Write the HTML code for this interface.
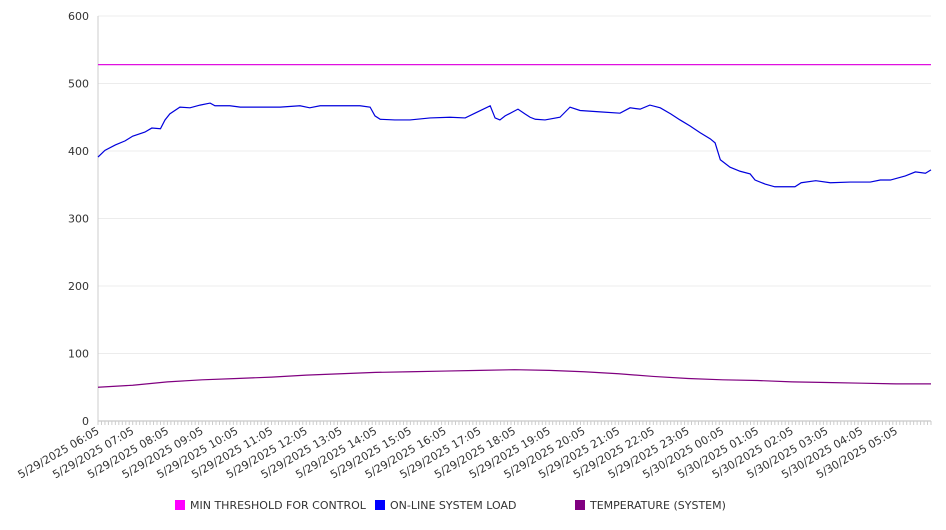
<!DOCTYPE html>
<html><head><meta charset="utf-8"><style>
body{margin:0;background:#fff;font-family:"DejaVu Sans","Liberation Sans",sans-serif}
svg text{font-family:"DejaVu Sans","Liberation Sans",sans-serif;fill:#333}
</style></head><body>
<svg id="c" width="946" height="526"></svg>
<script>
const yTicks=[0,100,200,300,400,500,600];
const xLabels=["5/29/2025 06:05","5/29/2025 07:05","5/29/2025 08:05","5/29/2025 09:05","5/29/2025 10:05","5/29/2025 11:05","5/29/2025 12:05","5/29/2025 13:05","5/29/2025 14:05","5/29/2025 15:05","5/29/2025 16:05","5/29/2025 17:05","5/29/2025 18:05","5/29/2025 19:05","5/29/2025 20:05","5/29/2025 21:05","5/29/2025 22:05","5/29/2025 23:05","5/30/2025 00:05","5/30/2025 01:05","5/30/2025 02:05","5/30/2025 03:05","5/30/2025 04:05","5/30/2025 05:05"];
const threshold=528;
const loadHours=[0,0.2,0.5,0.78,1.0,1.35,1.55,1.8,1.93,2.07,2.36,2.65,2.94,3.23,3.37,3.8,4.1,4.67,5.25,5.82,6.1,6.4,6.97,7.55,7.84,7.98,8.13,8.55,8.99,9.57,10.14,10.58,10.86,11.3,11.44,11.58,11.73,12.1,12.3,12.45,12.6,12.88,13.31,13.6,13.89,14.47,15.04,15.33,15.62,15.9,16.2,16.5,16.77,17.06,17.35,17.64,17.78,17.93,18.21,18.5,18.79,18.93,19.22,19.5,20.08,20.26,20.68,21.1,21.67,22.25,22.54,22.83,23.26,23.55,23.84,24.0];
const loadValues=[391,401,409,415,422,428,434,433,446,455,465,464,468,471,467,467,465,465,465,467,464,467,467,467,465,452,447,446,446,449,450,449,456,467,449,446,452,462,455,450,447,446,450,465,460,458,456,464,462,468,464,455,446,437,427,418,412,387,376,370,366,357,351,347,347,353,356,353,354,354,357,357,363,369,367,372];
const tempHours=[0,1,2,3,4,5,6,7,8,9,10,11,12,13,14,15,16,17,18,19,20,21,22,23,24];
const tempValues=[50,53,58,61,63,65,68,70,72,73,74,75,76,75,73,70,66,63,61,60,58,57,56,55,55];
const svg=document.getElementById('c');const NS='http://www.w3.org/2000/svg';
const X0=98,X1=931,Y0=421,Y1=16;
const xs=h=>X0+h*(X1-X0)/24, ys=v=>Y0-v*(Y0-Y1)/600;
function mk(t,a,p){const e=document.createElementNS(NS,t);for(const k in a)e.setAttribute(k,a[k]);(p||svg).appendChild(e);return e;}
yTicks.forEach(v=>{
 const g=mk('line',{x1:X0,x2:X1,y1:ys(v),y2:ys(v),stroke:v?'#ececec':'#bbb'});
 
 
 const t=mk('text',{x:89,y:ys(v)+4,'text-anchor':'end','font-size':11});t.textContent=v;
 
 
});
const ax=mk('line',{x1:X0,x2:X0,y1:Y1,y2:Y0,stroke:'#ccc'});


for(let i=0;i<=240;i++){const m=mk('line',{x1:xs(i/10),x2:xs(i/10),y1:Y0,y2:Y0+4,stroke:'#ccc'});
 
 }
xLabels.forEach((l,i)=>{const x=xs(i)+2;
 const t=mk('text',{x:x,y:Y0+12,'text-anchor':'end','font-size':11,transform:`rotate(-30 ${x} ${Y0+12})`});t.textContent=l;
 
 });
const th=mk('line',{x1:X0,x2:X1,y1:ys(threshold),y2:ys(threshold),stroke:'#e010e0','stroke-width':1.2});


const lp=mk('polyline',{points:loadHours.map((h,i)=>xs(h)+','+ys(loadValues[i])).join(' '),fill:'none',stroke:'#0000dd','stroke-width':1.2});


const tp=mk('polyline',{points:tempHours.map((h,i)=>xs(h)+','+ys(tempValues[i])).join(' '),fill:'none',stroke:'#800080','stroke-width':1.2});


[["MIN THRESHOLD FOR CONTROL","#ff00ff",175],["ON-LINE SYSTEM LOAD","#0000ff",375],["TEMPERATURE (SYSTEM)","#800080",575]].forEach(([n,c,x])=>{
 const r=mk('rect',{x:x,y:500,width:10,height:10,fill:c});
 
 
 const t=mk('text',{x:x+15,y:509,'font-size':11});t.textContent=n;
 
 
});
</script>
</body></html>
